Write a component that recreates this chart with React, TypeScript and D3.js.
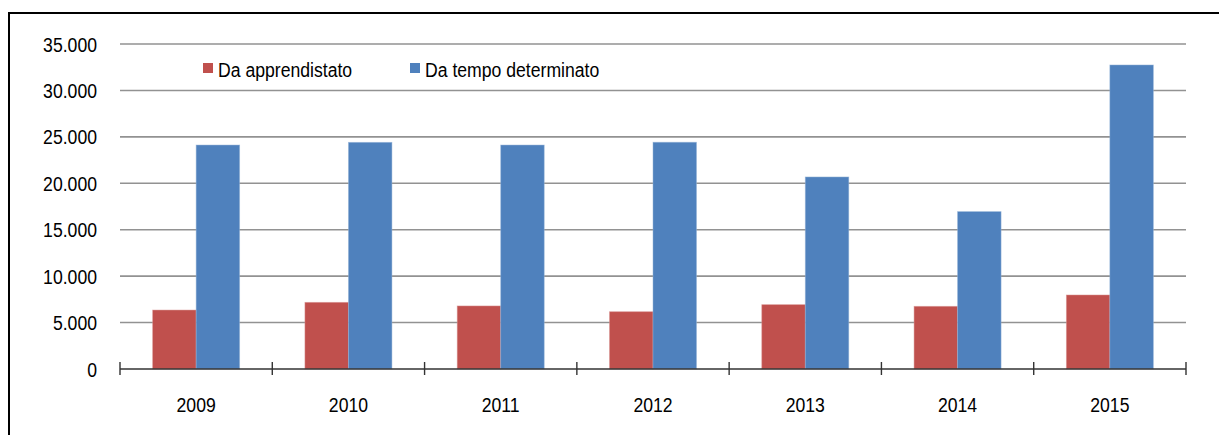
import React from "react";
import * as d3 from "d3";

const years = ["2009", "2010", "2011", "2012", "2013", "2014", "2015"];
const apprendistato = [6350, 7180, 6790, 6170, 6930, 6750, 7970];
const tempoDeterminato = [24120, 24410, 24120, 24420, 20680, 16950, 32740];
const yTicks = [0, 5000, 10000, 15000, 20000, 25000, 30000, 35000];
const seriesNames = ["Da apprendistato", "Da tempo determinato"];
const seriesColors = ["#C0504D", "#4F81BD"];

const W = 1219;
const H = 435;
const left = 120;
const right = 1186;
const top = 44;
const bottom = 369;

const fmt = (v: number) => (v === 0 ? "0" : d3.format(",")(v).replace(/,/g, "."));

function SText(props: any) {
  const { x, y, anchor, children, size = 19.8 } = props;
  const sx = 0.89;
  return (
    <text
      transform={`translate(${x},${y}) scale(${sx},1)`}
      textAnchor={anchor}
      fontFamily="'Liberation Sans', Arial, sans-serif"
      fontSize={size}
      fill="#000"
    >
      {children}
    </text>
  );
}

export default function App() {
  const x = d3.scaleBand<string>().domain(years).range([left, right]);
  const y = d3.scaleLinear().domain([0, 35000]).range([bottom, top]);
  const bw = 43.5;
  const series = [apprendistato, tempoDeterminato];
  const boundaries = d3.range(years.length + 1).map((i) => left + i * x.bandwidth());

  return (
    <svg
      width={W}
      height={H}
      style={{ position: "absolute", left: 0, top: 0, display: "block" }}
    >
      <rect x={0} y={0} width={W} height={H} fill="#fff" />
      <rect x={9} y={13} width={1400} height={600} fill="none" stroke="#000" strokeWidth={2} />
      {yTicks.slice(1).map((t) => (
        <line key={t} x1={left} x2={right} y1={y(t)} y2={y(t)} stroke="#929292" strokeWidth={1.6} />
      ))}
      {yTicks.map((t) => (
        <SText key={"l" + t} x={97} y={y(t) + 7.5} anchor="end">
          {fmt(t)}
        </SText>
      ))}
      {years.map((yr, i) => {
        const c = (x(yr) as number) + x.bandwidth() / 2;
        return (
          <g key={yr}>
            {series.map((s, j) => (
              <rect
                key={j}
                x={c - bw + j * bw}
                y={y(s[i])}
                width={bw}
                height={bottom - y(s[i])}
                fill={seriesColors[j]}
                stroke={j === 0 ? "#d99694" : "#95b3d7"}
                strokeOpacity={0.6}
                strokeWidth={0.8}
              />
            ))}
            <SText x={c} y={412} anchor="middle">
              {yr}
            </SText>
          </g>
        );
      })}
      <line x1={left} x2={right} y1={bottom} y2={bottom} stroke="#333" strokeWidth={1.6} />
      {boundaries.map((b, i) => (
        <line key={"t" + i} x1={b} x2={b} y1={362} y2={375} stroke="#333" strokeWidth={1.4} />
      ))}
      <rect x={203} y={63} width={10} height={10} fill={seriesColors[0]} />
      <SText x={218} y={76.5} anchor="start">
        {seriesNames[0]}
      </SText>
      <rect x={410} y={63} width={10} height={10} fill={seriesColors[1]} />
      <SText x={425} y={76.5} anchor="start">
        {seriesNames[1]}
      </SText>
    </svg>
  );
}
